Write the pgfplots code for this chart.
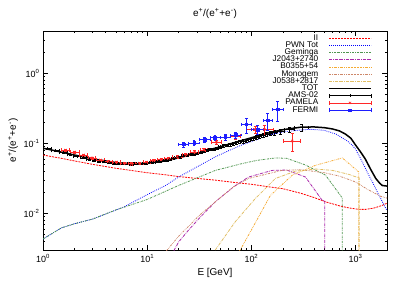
\documentclass[border=0pt]{standalone}
\usepackage{pgfplots}
\pgfplotsset{compat=1.18}
\usepackage{fontspec}
\setmainfont{Liberation Sans}
\setsansfont{Liberation Sans}
\definecolor{cII}{RGB}{255,0,0}
\definecolor{cPWN}{RGB}{0,0,255}
\definecolor{cGem}{RGB}{80,150,80}
\definecolor{cJ20}{RGB}{170,40,170}
\definecolor{cB03}{RGB}{245,170,50}
\definecolor{cMon}{RGB}{205,135,105}
\definecolor{cJ05}{RGB}{225,190,100}
\definecolor{cPAM}{RGB}{255,40,40}
\definecolor{cFER}{RGB}{30,30,255}
\pgfplotsset{
  errlegend/.style={legend image code/.code={\draw[##1,mark=none] (0bp,0bp) -- (42bp,0bp) (0bp,-2bp) -- (0bp,2bp) (42bp,-2bp) -- (42bp,2bp); \draw[##1] plot coordinates {(21bp,0bp)};}},
  linelegend/.style={legend image code/.code={\draw[##1] (0bp,0bp) -- (42bp,0bp);}},
}
\begin{document}
\begin{tikzpicture}
\useasboundingbox (-43bp,-33bp) rectangle (362bp,250bp);
\begin{axis}[
  at={(0,0)}, anchor=south west,
  scale only axis, width=344bp, height=219bp,
  xmode=log, ymode=log,
  xmin=1, xmax=2000, ymin=0.003, ymax=4,
  xtick={1,10,100,1000},
  xticklabels={10\textsuperscript{0},10\textsuperscript{1},10\textsuperscript{2},10\textsuperscript{3}},
  minor xtick={2,3,4,5,6,7,8,9,20,30,40,50,60,70,80,90,200,300,400,500,600,700,800,900,2000},
  ytick={0.01,0.1,1},
  yticklabels={10\textsuperscript{-2},10\textsuperscript{-1},10\textsuperscript{0}},
  minor ytick={0.003,0.004,0.005,0.006,0.007,0.008,0.009,0.02,0.03,0.04,0.05,0.06,0.07,0.08,0.09,0.2,0.3,0.4,0.5,0.6,0.7,0.8,0.9,2,3,4},
  tick align=inside,
  major tick length=5bp, minor tick length=2.5bp,
  every tick/.style={black, line width=0.5bp},
  axis line style={line width=0.8bp},
  tick label style={font=\fontsize{9}{10}\selectfont},
  xticklabel style={yshift=-1bp},
  label style={font=\fontsize{10}{11}\selectfont},
  title style={font=\fontsize{10}{11}\selectfont, yshift=3bp},
  title={e\textsuperscript{+}/(e\textsuperscript{+}+e\textsuperscript{-})},
  xlabel={E [GeV]},
  ylabel={e\textsuperscript{+}/(e\textsuperscript{+}+e\textsuperscript{-})},
  xlabel style={yshift=1bp},
  ylabel style={yshift=-1bp},
  legend plot pos=right,
  legend cell align=right,
  legend style={at={(0.965,0.994)}, anchor=north east, draw=none, fill=none,
    font=\fontsize{8.3}{9}\selectfont, row sep=0pt, column sep=10bp,
    nodes={inner sep=0pt, text height=5.6bp, text depth=1.6bp}},
  linelegend,
  every axis plot/.append style={line width=0.8bp},
]
% II
\addplot[cII, dash pattern=on 2bp off 1bp] table {
1 0.068
1.5 0.061
2 0.056
3 0.050
5 0.044
7 0.041
10 0.038
15 0.0355
20 0.0335
30 0.0315
45 0.0298
70 0.0275
100 0.026
150 0.0238
200 0.0225
300 0.0193
400 0.0168
515 0.0146
700 0.0128
850 0.0120
1070 0.0114
1250 0.0114
1500 0.0119
1800 0.0130
2000 0.0140
};
\addlegendentry{II}
% PWN Tot
\addplot[cPWN, dash pattern=on 0.8bp off 1.2bp] table {
1 0.0043
1.5 0.0062
2 0.0071
3 0.0083
6 0.0124
10 0.0185
15 0.025
20 0.033
30 0.046
45 0.064
60 0.078
80 0.094
121 0.117
152 0.133
200 0.145
300 0.155
370 0.158
500 0.153
650 0.135
830 0.108
930 0.094
1000 0.082
1160 0.054
1300 0.038
1450 0.028
1620 0.020
1950 0.0117
2000 0.0110
};
\addlegendentry{PWN Tot}
% Geminga
\addplot[cGem, dash pattern=on 2bp off 1bp on 0.6bp off 1bp] table {
1 0.0043
1.5 0.0062
2 0.0071
3 0.0083
5 0.0112
10 0.0158
20 0.025
30 0.032
45 0.041
80 0.051
113 0.057
170 0.0618
218 0.061
330 0.049
515 0.035
735 0.017
745 0.0165
746 0.0001
};
\addlegendentry{Geminga}
% J2043+2740
\addplot[cJ20, dash pattern=on 3bp off 1bp on 0.6bp off 1bp] table {
17 0.0025
20 0.0039
25 0.0058
32 0.0087
45 0.0146
67.6 0.024
94 0.033
158 0.041
218 0.0415
330 0.033
475 0.0155
505 0.0150
506 0.0001
};
\addlegendentry{J2043+2740}
% B0355+54
\addplot[cB03, dash pattern=on 2bp off 1bp on 0.6bp off 1bp on 0.6bp off 1bp] table {
76 0.0028
100 0.0058
152 0.018
246 0.035
414 0.0486
745 0.0618
1070 0.039
1072 0.0001
};
\addlegendentry{B0355+54}
% Monogem
\addplot[cMon, dash pattern=on 2bp off 1bp on 0.6bp off 1bp on 0.6bp off 1bp] table {
14 0.0025
20 0.0047
32 0.0095
45 0.0146
67.6 0.024
94 0.0315
196 0.041
300 0.042
500 0.038
700 0.034
1000 0.028
1300 0.022
1740 0.0175
2000 0.0165
};
\addlegendentry{Monogem}
% J0538+2817
\addplot[cJ05, dash pattern=on 3bp off 1bp on 0.6bp off 1bp] table {
45 0.0030
70 0.0076
109 0.0163
170 0.0315
265 0.040
414 0.0429
600 0.041
860 0.036
1080 0.032
1082 0.0001
};
\addlegendentry{J0538+2817}
% TOT
\addplot[black, line width=1.5bp] table {
1 0.085
1.5 0.075
2 0.068
3 0.060
5 0.053
7 0.051
10 0.052
15 0.056
20 0.062
30 0.072
50 0.089
70 0.103
100 0.120
150 0.142
200 0.156
300 0.170
400 0.171
500 0.167
600 0.160
700 0.150
800 0.135
900 0.118
1000 0.094
1117 0.075
1235 0.060
1400 0.042
1560 0.0315
1700 0.027
1800 0.025
2000 0.0245
};
\addlegendentry{TOT}
% AMS-02
\addplot[black, only marks, mark=+, mark size=1.5bp, line width=0.6bp, errlegend,
  error bars/.cd, x dir=both, x explicit, y dir=both, y explicit,
  error bar style={line width=0.6bp}]
table[x=E, y=v, x error=ex, y error=ey] {
E v ex ey
1.1 0.0842 0.10 0.0015
1.32 0.0782 0.12 0.0013
1.57 0.0738 0.13 0.0012
1.83 0.0686 0.14 0.0011
2.12 0.0655 0.15 0.001
2.44 0.0617 0.16 0.001
2.77 0.0592 0.17 0.001
3.12 0.0574 0.18 0.001
3.5 0.0554 0.2 0.0009
3.91 0.0542 0.21 0.0009
4.34 0.0530 0.22 0.0009
4.81 0.0520 0.24 0.0009
5.3 0.0514 0.25 0.0009
5.83 0.0509 0.27 0.0009
6.38 0.0508 0.28 0.0009
6.97 0.0505 0.3 0.0009
7.6 0.0507 0.32 0.0009
8.26 0.0511 0.34 0.0009
8.95 0.0512 0.35 0.0009
9.7 0.0517 0.4 0.0009
10.5 0.0529 0.4 0.001
11.35 0.0538 0.45 0.001
12.25 0.0546 0.45 0.001
13.2 0.0554 0.5 0.001
14.2 0.0570 0.5 0.0011
15.25 0.0574 0.55 0.0011
16.4 0.0590 0.6 0.0012
17.65 0.0602 0.65 0.0012
19.0 0.0621 0.7 0.0013
20.5 0.0636 0.8 0.0014
22.1 0.0659 0.8 0.0015
23.8 0.0667 0.9 0.0015
25.7 0.0685 1.0 0.0016
27.75 0.0701 1.05 0.0018
29.95 0.0721 1.15 0.0019
32.3 0.0737 1.2 0.002
34.8 0.0763 1.3 0.0021
37.5 0.0789 1.4 0.0023
40.4 0.0812 1.5 0.0025
43.5 0.0828 1.6 0.0027
46.8 0.0855 1.7 0.003
50.3 0.0885 1.85 0.0032
54.1 0.0926 1.95 0.0035
58.2 0.0932 2.1 0.0037
62.5 0.0961 2.25 0.004
67.2 0.0985 2.45 0.0043
72.3 0.1019 2.6 0.0048
77.7 0.1062 2.8 0.005
83.5 0.1070 3.0 0.0055
89.7 0.1099 3.25 0.006
96.5 0.1130 3.5 0.0065
104 0.1170 4 0.007
112 0.1220 4 0.0075
120 0.1250 4.5 0.008
130 0.1300 5 0.0085
141 0.1340 6 0.009
153 0.1380 6.5 0.0095
167 0.1420 7.5 0.01
190 0.1460 15 0.011
233 0.1570 27 0.013
305 0.1680 45 0.02
};
\addlegendentry{AMS-02}
% PAMELA
\addplot[cPAM, only marks, mark=x, mark size=1.6bp, line width=0.6bp, errlegend,
  error bars/.cd, x dir=both, x explicit, y dir=both, y explicit,
  error bar style={line width=0.6bp}]
table[x=E, y=v, x error=ex, y error=ey] {
E v ex ey
1.64 0.080 0.15 0.003
2.02 0.075 0.2 0.003
2.45 0.068 0.22 0.0025
2.95 0.062 0.25 0.002
3.55 0.058 0.3 0.002
4.25 0.055 0.35 0.002
5.05 0.054 0.4 0.002
6.0 0.052 0.5 0.002
7.1 0.051 0.6 0.002
8.4 0.052 0.7 0.002
9.9 0.054 0.8 0.002
11.6 0.057 0.9 0.002
13.6 0.059 1.1 0.0025
16.0 0.061 1.3 0.0025
19.5 0.064 2.0 0.003
23.5 0.069 2.0 0.003
28.5 0.075 2.5 0.0035
35.0 0.080 3 0.004
46.0 0.104 5 0.007
70.0 0.127 8 0.012
109 0.157 20 0.02
133 0.158 30 0.025
246 0.108 45 0.03
};
\addlegendentry{PAMELA}
% FERMI
\addplot[cFER, only marks, mark=square*, mark size=1.3bp, line width=0.6bp, errlegend,
  error bars/.cd, x dir=both, x explicit, y dir=both, y explicit,
  error bar style={line width=0.6bp}]
table[x=E, y=v, x error minus=exm, x error plus=exp, y error=ey] {
E v exm exp ey
22.4 0.097 2.4 2.6 0.008
28.2 0.101 3.2 3.4 0.008
35.5 0.113 3.9 4.3 0.009
44.7 0.120 4.9 5.4 0.010
56.2 0.123 6.1 6.9 0.012
70.8 0.131 7.7 8.6 0.013
89.5 0.186 10 10.5 0.045
115 0.157 15 15 0.022
143 0.212 13 17 0.058
179 0.305 19 21 0.10
};
\addlegendentry{FERMI}
\end{axis}
\end{tikzpicture}
\end{document}
